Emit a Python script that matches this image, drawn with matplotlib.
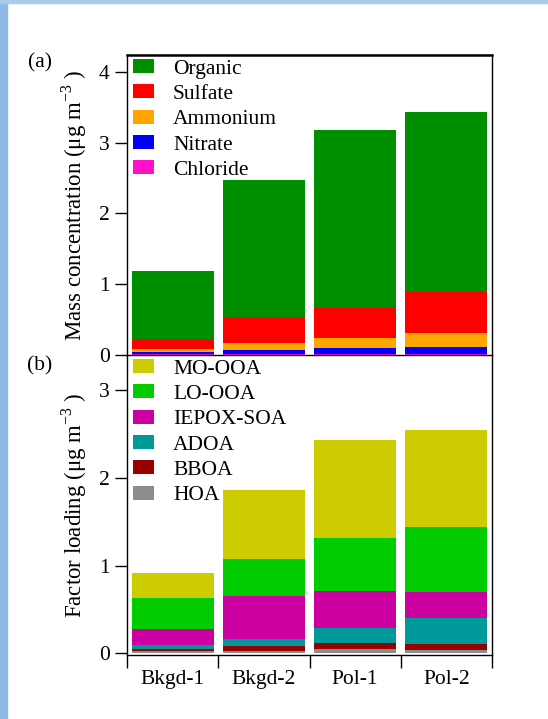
import numpy as np
import matplotlib
matplotlib.use('Agg')
import matplotlib.pyplot as plt
from matplotlib.patches import Rectangle

plt.rcParams['font.family'] = ['Liberation Serif', 'DejaVu Serif']
plt.rcParams['mathtext.fontset'] = 'custom'
plt.rcParams['mathtext.rm'] = 'Liberation Serif'

FS = 15.5

# categories
periods = ["Bkgd-1", "Bkgd-2", "Pol-1", "Pol-2"]

# panel (a) species, bottom to top
chloride = [0.02, 0.02, 0.02, 0.02]
nitrate = [0.02, 0.05, 0.075, 0.097]
ammonium = [0.04, 0.10, 0.14, 0.198]
sulfate = [0.146, 0.37, 0.435, 0.58]
organic = [0.964, 1.93, 2.51, 2.535]

# panel (b) PMF factors, bottom to top
hoa = [0.02, 0.03, 0.05, 0.04]
bboa = [0.03, 0.05, 0.064, 0.06]
adoa = [0.045, 0.083, 0.176, 0.305]
iepox = [0.179, 0.487, 0.42, 0.295]
lo_ooa = [0.353, 0.425, 0.605, 0.74]
mo_ooa = [0.293, 0.785, 1.115, 1.11]

species_a = [("Chloride", chloride, "#FF10CC"), ("Nitrate", nitrate, "#0000FF"),
             ("Ammonium", ammonium, "#FFA500"), ("Sulfate", sulfate, "#FF0000"),
             ("Organic", organic, "#008F00")]
species_b = [("HOA", hoa, "#8C8C8C"), ("BBOA", bboa, "#990000"),
             ("ADOA", adoa, "#009999"), ("IEPOX-SOA", iepox, "#CC00A0"),
             ("LO-OOA", lo_ooa, "#00CC00"), ("MO-OOA", mo_ooa, "#CCCC00")]

fig = plt.figure(figsize=(5.48, 7.19), dpi=100)

# light blue frame of the slide
fig.patches.append(Rectangle((0, 0), 7 / 548, 1, transform=fig.transFigure,
                             color="#8DB9E4", zorder=0))
fig.patches.append(Rectangle((0, 1 - 3 / 719), 1, 3 / 719, transform=fig.transFigure,
                             color="#A9CBEB", zorder=0))

ax1 = fig.add_axes([127 / 548, 1 - 355 / 719, 365 / 548, 300 / 719])
ax2 = fig.add_axes([127 / 548, 1 - 655 / 719, 365 / 548, 300 / 719])

x = np.arange(len(periods))


def stack(ax, series):
    bottom = np.zeros(len(periods))
    handles = []
    for name, vals, col in series:
        b = ax.bar(x, vals, width=0.9, bottom=bottom, color=col, label=name,
                   linewidth=0)
        handles.append(b)
        bottom = bottom + np.array(vals)
    return handles


h1 = stack(ax1, species_a)
h2 = stack(ax2, species_b)

ax1.set_xlim(-0.5, 3.5)
ax1.set_ylim(0, 4.24)
ax2.set_xlim(-0.5, 3.5)
ax2.set_ylim(-0.02, 3.40)

for ax in (ax1, ax2):
    for s in ax.spines.values():
        s.set_linewidth(1.0)
    ax.tick_params(axis='y', direction='out', length=8.5, width=1.0,
                   labelsize=FS, pad=4)
    ax.patch.set_alpha(0)

ax1.spines['top'].set_linewidth(1.8)
ax1.set_yticks([0, 1, 2, 3, 4])
ax1.set_xticks([])
ax2.set_yticks([0, 1, 2, 3])
ax2.spines['top'].set_visible(False)

ax2.set_xticks(x)
ax2.set_xticklabels(periods)
ax2.set_xticks(np.arange(-0.5, 4, 1), minor=True)
ax2.tick_params(axis='x', which='major', length=0, labelsize=FS, pad=11)
ax2.tick_params(axis='x', which='minor', direction='out', length=9, width=1.0)

ax1.set_ylabel("Mass concentration (μg m$^{-3}$ )", fontsize=16.5)
ax2.set_ylabel("Factor loading (μg m$^{-3}$ )", fontsize=16.5)
ax1.yaxis.set_label_coords(-0.104, 0.5)
ax2.yaxis.set_label_coords(-0.104, 0.5)

fig.text(40 / 548, 1 - 63 / 719, "(a)", fontsize=FS, ha='center', va='center')
fig.text(40 / 548, 1 - 366 / 719, "(b)", fontsize=FS, ha='center', va='center')

leg_kw = dict(frameon=False, fontsize=FS, handlelength=0.98, handleheight=0.62,
              handletextpad=0.88, labelspacing=0.27, borderpad=0,
              borderaxespad=0, loc='upper left')
ax1.legend(h1[::-1], [s[0] for s in species_a][::-1],
           bbox_to_anchor=(6 / 365, 1 - 4 / 300), **leg_kw)
ax2.legend(h2[::-1], [s[0] for s in species_b][::-1],
           bbox_to_anchor=(6 / 365, 1 - 4 / 300), **leg_kw)

fig.savefig("out.png", dpi=100)
